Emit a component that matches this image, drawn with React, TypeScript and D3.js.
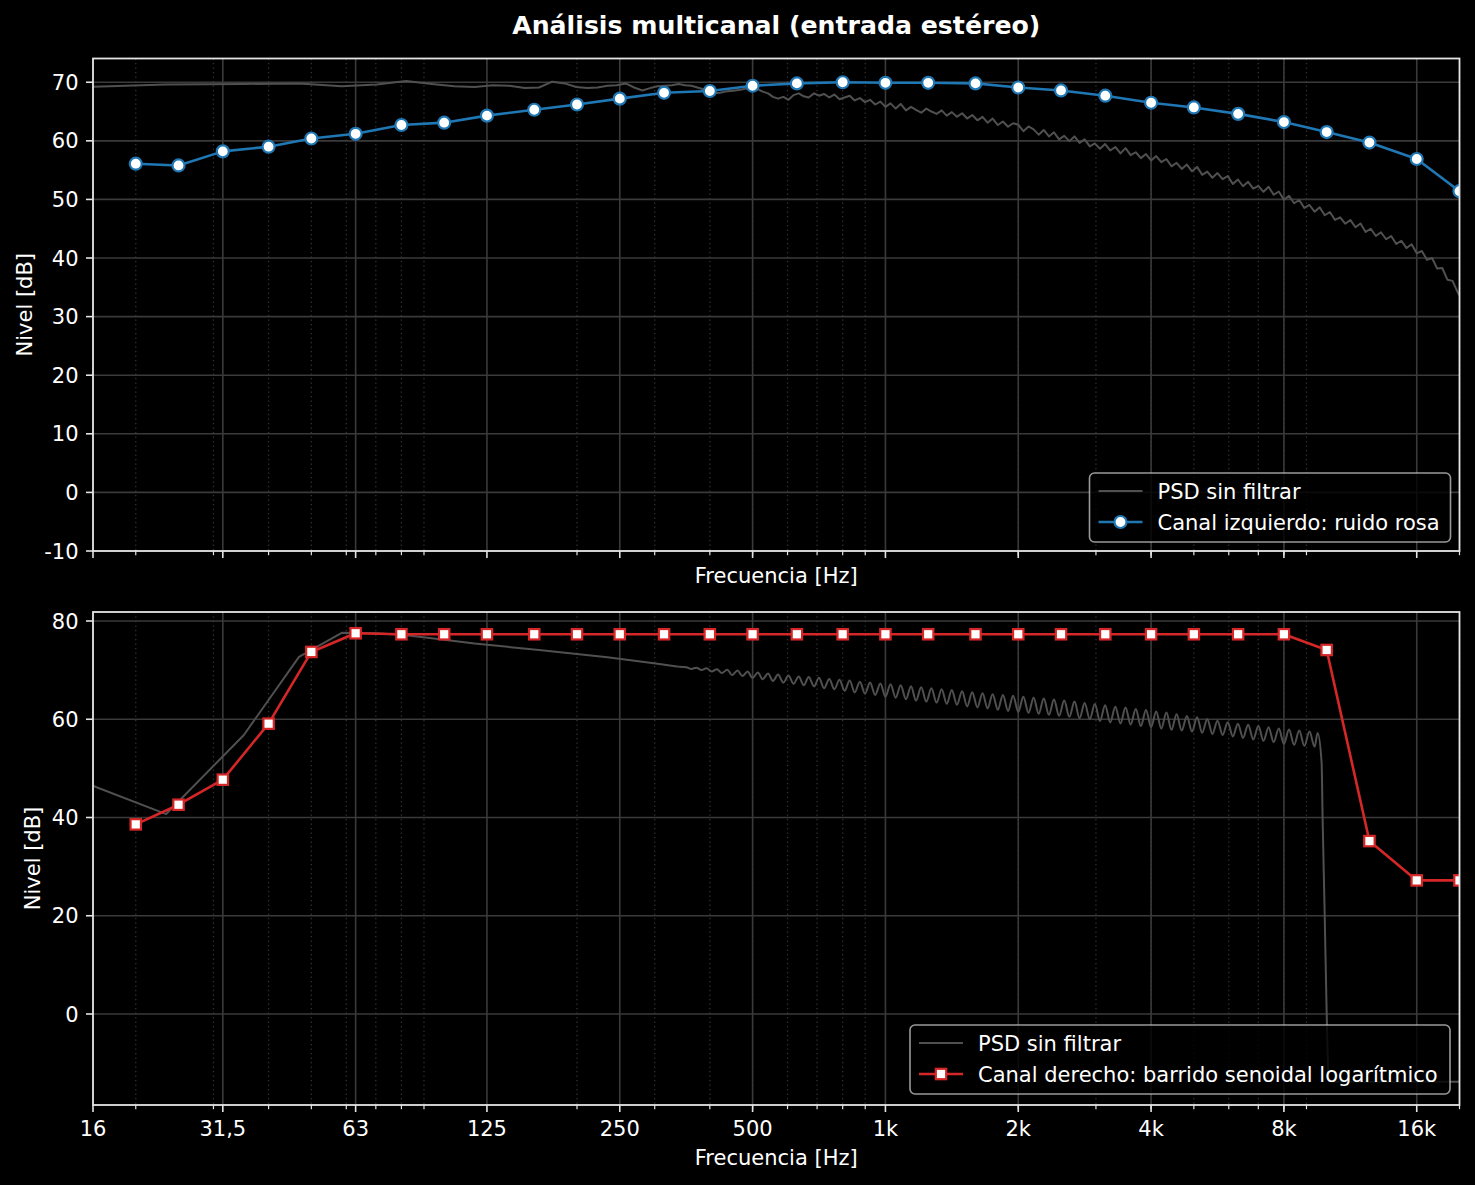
import React from "react";
import * as d3 from "d3";

// ---------- DATA ----------
const bandFreqs = [20, 25, 31.5, 40, 50, 63, 80, 100, 125, 160, 200, 250, 315, 400, 500, 630, 800, 1000, 1250, 1600, 2000, 2500, 3150, 4000, 5000, 6300, 8000, 10000, 12500, 16000, 20000];
const leftChannel = [56.1, 55.8, 58.2, 59.0, 60.4, 61.2, 62.7, 63.1, 64.3, 65.3, 66.2, 67.2, 68.2, 68.5, 69.4, 69.8, 70.0, 69.9, 69.9, 69.8, 69.1, 68.6, 67.7, 66.5, 65.7, 64.6, 63.2, 61.5, 59.7, 56.9, 51.4];
const rightChannel = [38.6, 42.6, 47.7, 59.1, 73.7, 77.5, 77.3, 77.3, 77.3, 77.3, 77.3, 77.3, 77.3, 77.3, 77.3, 77.3, 77.3, 77.3, 77.3, 77.3, 77.3, 77.3, 77.3, 77.3, 77.3, 77.3, 77.3, 74.1, 35.2, 27.2, 27.2];

const psdTopFreqs = [
  11.72, 23.44, 35.16, 46.88, 58.59, 70.31, 82.03, 93.75, 105.47, 117.19,
  128.91, 140.63, 152.34, 164.06, 175.78, 187.5, 199.22, 210.94, 222.66, 234.38,
  246.09, 257.81, 269.53, 281.25, 292.97, 304.69, 316.41, 328.13, 339.84, 351.56,
  363.28, 375, 386.72, 398.44, 410.16, 421.88, 433.59, 445.31, 457.03, 468.75, 480.47, 492.19,
  500, 514, 527, 542, 556, 571, 587, 603, 619, 636, 653, 670, 689, 707, 726, 746, 766, 787, 808, 830, 852, 875, 899, 923, 948, 974,
  1000, 1027, 1055, 1083, 1113, 1143, 1173, 1205, 1238, 1271, 1306, 1341, 1377, 1414, 1452, 1492, 1532, 1573, 1616, 1660, 1704, 1750, 1798, 1846, 1896, 1947,
  2000, 2054, 2110, 2167, 2225, 2285, 2347, 2410, 2475, 2542, 2611, 2682, 2754, 2828, 2905, 2983, 3064, 3147, 3232, 3319, 3409, 3501, 3595, 3693, 3792, 3895,
  4000, 4108, 4219, 4333, 4450, 4570, 4694, 4821, 4951, 5085, 5222, 5363, 5508, 5657, 5810, 5967, 6128, 6293, 6463, 6638, 6817, 7002, 7191, 7385, 7585, 7789,
  8000, 8216, 8438, 8666, 8900, 9141, 9388, 9641, 9902, 10170, 10444, 10726, 11016, 11314, 11619, 11933, 12256, 12587, 12927, 13276, 13635, 14003, 14381, 14770, 15169, 15579,
  16000, 16432, 16876, 17332, 17800, 18281, 18775, 19283, 19803, 20000,
];
const psdTopLevels = [
  68.9, 69.6, 69.7, 69.8, 69.3, 69.6, 70.2, 69.7, 69.3, 69.2,
  69.5, 69.4, 69.0, 69.1, 70.1, 69.8, 69.2, 69.0, 69.1, 69.4,
  69.5, 69.8, 69.1, 68.6, 69.0, 69.3, 69.4, 69.5, 69.7, 69.5,
  69.4, 69.1, 68.8, 68.4, 68.1, 68.2, 68.4, 68.5, 68.6, 68.7, 68.9, 69.0,
  69.0, 68.8, 68.4, 68.1, 67.5, 67.2, 67.5, 67.0, 67.8, 68.1, 67.6, 67.4, 68.1, 67.7, 68.0, 67.4, 67.9, 67.1, 67.4, 67.7, 66.9, 67.3, 66.6, 67.0, 66.2, 66.7,
  65.8, 66.4, 65.5, 66.3, 65.2, 65.8, 65.3, 64.8, 65.5, 65.0, 64.6, 65.2, 64.3, 64.9, 64.1, 64.7, 63.8, 64.4, 63.5, 64.1, 63.1, 63.8, 62.7, 63.3, 62.4, 63.0,
  62.75, 61.65, 62.45, 61.95, 61.05, 61.85, 60.75, 61.45, 60.25, 60.85, 59.95, 60.75, 59.65, 60.25, 59.05, 59.55, 58.65, 59.45, 58.35, 58.95, 57.85, 58.75, 57.55, 58.05, 57.05, 57.75,
  56.65, 57.4, 56.35, 56.9, 55.65, 56.25, 55.2, 55.95, 54.8, 55.55, 54.2, 54.75, 53.7, 54.5, 53.45, 54.0, 52.65, 53.4, 52.25, 53.0, 51.85, 52.3, 51.3, 52.15, 50.8, 51.35,
  49.95, 50.6, 49.35, 49.9, 48.55, 49.05, 47.9, 48.65, 47.3, 47.85, 46.5, 46.95, 45.85, 46.5, 45.25, 45.9, 44.45, 45.0, 43.75, 44.4, 43.2, 43.75, 42.4, 42.95, 41.7, 42.35,
  40.8, 41.2, 39.7, 40.0, 38.2, 38.3, 36.3, 36.1, 34.2, 33.6,
];

const psdBotFreqs = [
  11.72, 23.44, 35.16, 46.88, 58.59, 70.31, 82.03, 93.75, 117.19, 164.06, 234.38, 304.69, 339.84,
  354, 363, 373, 383, 393, 404, 415, 426, 438, 449, 462, 474, 487,
  500, 514, 527, 542, 556, 571, 587, 603, 619, 636, 653, 670, 689, 707, 726, 746, 766, 787, 808, 830, 852, 875, 899, 923, 948, 974,
  1000, 1027, 1055, 1083, 1113, 1143, 1173, 1205, 1238, 1271, 1306, 1341, 1377, 1414, 1452, 1492, 1532, 1573, 1616, 1660, 1704, 1750, 1798, 1846, 1896, 1947,
  2000, 2054, 2110, 2167, 2225, 2285, 2347, 2410, 2475, 2542, 2611, 2682, 2754, 2828, 2905, 2983, 3064, 3147, 3232, 3319, 3409, 3501, 3595, 3693, 3792, 3895,
  4000, 4108, 4219, 4333, 4450, 4570, 4694, 4821, 4951, 5085, 5222, 5363, 5508, 5657, 5810, 5967, 6128, 6293, 6463, 6638, 6817, 7002, 7191, 7385, 7585, 7789,
  8000, 8216, 8438, 8666, 8900, 9141, 9388,
  9539, 9741, 9790, 9893, 9997, 10101, 10250, 20000,
];
const psdBotLevels = [
  51.1, 40.7, 56.8, 72.7, 77.6, 77.5, 77.1, 76.5, 75.4, 74.1, 72.6, 71.3, 70.7,
  70.6, 70.25, 70.5, 70.0, 70.4, 69.7, 70.2, 69.4, 70.1, 69.0, 69.9, 68.8, 69.7,
  68.4, 69.5, 68.15, 69.3, 67.8, 69.1, 67.45, 68.9, 67.2, 68.7, 66.9, 68.6, 66.7, 68.45, 66.3, 68.2, 66.1, 68.05, 65.8, 67.9, 65.45, 67.65, 65.2, 67.5, 64.95, 67.3,
  64.6, 67.1, 64.4, 66.9, 64.05, 66.7, 63.8, 66.5, 63.6, 66.3, 63.4, 66.1, 63.15, 65.95, 62.95, 65.7, 62.6, 65.5, 62.4, 65.3, 62.2, 65.1, 61.95, 64.95, 61.7, 64.8,
  61.5, 64.6, 61.3, 64.4, 61.1, 64.2, 60.9, 64.0, 60.7, 63.8, 60.5, 63.6, 60.2, 63.3, 60.0, 63.1, 59.65, 62.85, 59.35, 62.55, 59.15, 62.4, 58.9, 62.1, 58.6, 61.9,
  58.4, 61.6, 58.1, 61.35, 57.85, 61.0, 57.7, 60.65, 57.5, 60.4, 57.25, 60.05, 57.0, 59.7, 56.8, 59.4, 56.5, 59.1, 56.2, 58.9, 55.9, 58.6, 55.6, 58.35, 55.35, 58.1,
  55.0, 57.9, 54.8, 57.7, 54.6, 57.5, 54.4,
  57.2, 51.0, 40.0, 21.0, 0.8, -12.8, -13.8, -13.8,
];
// frequency above which the sweep PSD is drawn as a smooth ripple (below: straight bin-to-bin segments)
const rippleStartFreq = 339.84;

const majorTicks = [16, 31.5, 63, 125, 250, 500, 1000, 2000, 4000, 8000, 16000];
const majorTickLabels = ["16", "31,5", "63", "125", "250", "500", "1k", "2k", "4k", "8k", "16k"];
const minorTicks = [20, 30, 40, 50, 60, 70, 80, 90, 200, 300, 400, 500, 600, 700, 800, 900, 2000, 3000, 4000, 5000, 6000, 7000, 8000, 9000, 20000];
const topYTicks = [-10, 0, 10, 20, 30, 40, 50, 60, 70];
const botYTicks = [0, 20, 40, 60, 80];

const titleText = "Análisis multicanal (entrada estéreo)";
const xLabelText = "Frecuencia [Hz]";
const yLabelText = "Nivel [dB]";
const psdLabel = "PSD sin filtrar";
const leftLabel = "Canal izquierdo: ruido rosa";
const rightLabel = "Canal derecho: barrido senoidal logarítmico";

// ---------- STYLE ----------
const FONT = "'DejaVu Sans', Verdana, sans-serif";
const FS = 21;
const X0 = 93;
const X1 = 1459.5;
const GRID = "#3a3a3a";
const MINOR_GRID = "#343434";
const SPINE = "#e4e4e4";
const PSD_COLOR = "#505050";
const BLUE = "#1f77b4";
const RED = "#d62728";

type PanelProps = {
  id: string;
  y: d3.ScaleLinear<number, number>;
  top: number;
  bottom: number;
  yTicks: number[];
  showXLabels: boolean;
  psdF: number[];
  psdV: number[];
  smoothFrom: number | null;
  chV: number[];
  color: string;
  marker: "circle" | "square";
  chLabel: string;
  legend: { x: number; y: number; w: number; h: number };
  yLabelX: number;
  xLabelY: number;
};

const x = d3.scaleLog().domain([16, 20000]).range([X0, X1]);

function Marker({ kind, cx, cy, color }: { kind: string; cx: number; cy: number; color: string }) {
  if (kind === "circle") {
    return <circle cx={cx} cy={cy} r={6} fill="#ffffff" stroke={color} strokeWidth={2.2} />;
  }
  return <rect x={cx - 5.2} y={cy - 5.2} width={10.4} height={10.4} fill="#ffffff" stroke={color} strokeWidth={2.2} />;
}

function Panel(p: PanelProps) {
  const { y } = p;
  const psdData: [number, number][] = p.psdF.map((f, i) => [f, p.psdV[i]]);
  const chData: [number, number][] = bandFreqs.map((f, i) => [f, p.chV[i]]);
  const linear = d3
    .line<[number, number]>()
    .x((d) => x(d[0]))
    .y((d) => y(d[1]));
  const smooth = d3
    .line<[number, number]>()
    .x((d) => x(d[0]))
    .y((d) => y(d[1]))
    .curve(d3.curveMonotoneX);
  let psdPaths: string[];
  if (p.smoothFrom === null) {
    psdPaths = [linear(psdData) || ""];
  } else {
    const sf = p.smoothFrom;
    const lowPart = psdData.filter((d) => d[0] <= sf);
    const highPart = psdData.filter((d) => d[0] >= sf);
    psdPaths = [linear(lowPart) || "", smooth(highPart) || ""];
  }
  const clip = `clip-${p.id}`;
  const lg = p.legend;
  const row1 = lg.y + 18;
  const row2 = lg.y + 49;
  return (
    <g>
      <defs>
        <clipPath id={clip}>
          <rect x={X0} y={p.top} width={X1 - X0} height={p.bottom - p.top} />
        </clipPath>
      </defs>
      {/* grid */}
      {minorTicks.map((t) => (
        <line key={"mg" + t} x1={x(t)} x2={x(t)} y1={p.top} y2={p.bottom} stroke={MINOR_GRID} strokeWidth={1.3} strokeDasharray="1.3,3.2" />
      ))}
      {majorTicks.map((t) => (
        <line key={"Mg" + t} x1={x(t)} x2={x(t)} y1={p.top} y2={p.bottom} stroke={GRID} strokeWidth={1.6} />
      ))}
      {p.yTicks.map((t) => (
        <line key={"hg" + t} x1={X0} x2={X1} y1={y(t)} y2={y(t)} stroke={GRID} strokeWidth={1.6} />
      ))}
      {/* data */}
      <g clipPath={`url(#${clip})`}>
        {psdPaths.map((d, i) => (
          <path key={"psd" + i} d={d} fill="none" stroke={PSD_COLOR} strokeWidth={2} strokeLinejoin="round" />
        ))}
        <path d={linear(chData) || ""} fill="none" stroke={p.color} strokeWidth={2.6} strokeLinejoin="round" />
        {chData.map((d, i) => (
          <Marker key={i} kind={p.marker} cx={x(d[0])} cy={y(d[1])} color={p.color} />
        ))}
      </g>
      {/* spines */}
      <rect x={X0} y={p.top} width={X1 - X0} height={p.bottom - p.top} fill="none" stroke={SPINE} strokeWidth={1.8} />
      {/* x ticks */}
      {minorTicks.map((t) => (
        <line key={"mt" + t} x1={x(t)} x2={x(t)} y1={p.bottom} y2={p.bottom + 4.2} stroke={SPINE} strokeWidth={1.2} />
      ))}
      {majorTicks.map((t) => (
        <line key={"Mt" + t} x1={x(t)} x2={x(t)} y1={p.bottom} y2={p.bottom + 7} stroke={SPINE} strokeWidth={1.6} />
      ))}
      {p.showXLabels &&
        majorTicks.map((t, i) => (
          <text key={"xl" + t} x={x(t)} y={p.bottom + 31} textAnchor="middle" fill="#ffffff" fontSize={FS} fontFamily={FONT}>
            {majorTickLabels[i]}
          </text>
        ))}
      {/* y ticks */}
      {p.yTicks.map((t) => (
        <g key={"yt" + t}>
          <line x1={X0 - 7} x2={X0} y1={y(t)} y2={y(t)} stroke={SPINE} strokeWidth={1.6} />
          <text x={X0 - 14.5} y={y(t)} dy="0.36em" textAnchor="end" fill="#ffffff" fontSize={FS} fontFamily={FONT}>
            {String(t)}
          </text>
        </g>
      ))}
      {/* axis labels */}
      <text x={(X0 + X1) / 2} y={p.xLabelY} textAnchor="middle" fill="#ffffff" fontSize={FS} fontFamily={FONT}>
        {xLabelText}
      </text>
      <text
        transform={`translate(${p.yLabelX},${(p.top + p.bottom) / 2}) rotate(-90)`}
        textAnchor="middle"
        fill="#ffffff"
        fontSize={FS}
        fontFamily={FONT}
      >
        {yLabelText}
      </text>
      {/* legend */}
      <g>
        <rect x={lg.x} y={lg.y} width={lg.w} height={lg.h} rx={5} ry={5} fill="#000000" fillOpacity={0.8} stroke="#cccccc" strokeOpacity={0.75} strokeWidth={1.6} />
        <line x1={lg.x + 9} x2={lg.x + 53} y1={row1} y2={row1} stroke={PSD_COLOR} strokeWidth={2} />
        <text x={lg.x + 68} y={row1} dy="0.36em" fill="#ffffff" fontSize={FS} fontFamily={FONT}>
          {psdLabel}
        </text>
        <line x1={lg.x + 9} x2={lg.x + 53} y1={row2} y2={row2} stroke={p.color} strokeWidth={2.6} />
        <Marker kind={p.marker} cx={lg.x + 31} cy={row2} color={p.color} />
        <text x={lg.x + 68} y={row2} dy="0.36em" fill="#ffffff" fontSize={FS} fontFamily={FONT}>
          {p.chLabel}
        </text>
      </g>
    </g>
  );
}

export default function App() {
  const yTop = d3.scaleLinear().domain([-10, 74.05]).range([551, 58.5]);
  const yBot = d3.scaleLinear().domain([-18.52, 81.83]).range([1105, 612]);
  return (
    <svg
      width={1475}
      height={1185}
      viewBox="0 0 1475 1185"
      style={{ position: "absolute", left: 0, top: 0, display: "block", background: "#000" }}
    >
      <rect x={0} y={0} width={1475} height={1185} fill="#000000" />
      <text x={(X0 + X1) / 2} y={34} textAnchor="middle" fill="#ffffff" fontSize={25.2} fontWeight="bold" fontFamily={FONT}>
        {titleText}
      </text>
      <Panel
        id="top"
        y={yTop}
        top={58.5}
        bottom={551}
        yTicks={topYTicks}
        showXLabels={false}
        psdF={psdTopFreqs}
        psdV={psdTopLevels}
        smoothFrom={null}
        chV={leftChannel}
        color={BLUE}
        marker="circle"
        chLabel={leftLabel}
        legend={{ x: 1089.5, y: 473, w: 361, h: 69 }}
        yLabelX={31.5}
        xLabelY={583}
      />
      <Panel
        id="bot"
        y={yBot}
        top={612}
        bottom={1105}
        yTicks={botYTicks}
        showXLabels={true}
        psdF={psdBotFreqs}
        psdV={psdBotLevels}
        smoothFrom={rippleStartFreq}
        chV={rightChannel}
        color={RED}
        marker="square"
        chLabel={rightLabel}
        legend={{ x: 910, y: 1025, w: 540, h: 69 }}
        yLabelX={39.5}
        xLabelY={1165}
      />
    </svg>
  );
}
